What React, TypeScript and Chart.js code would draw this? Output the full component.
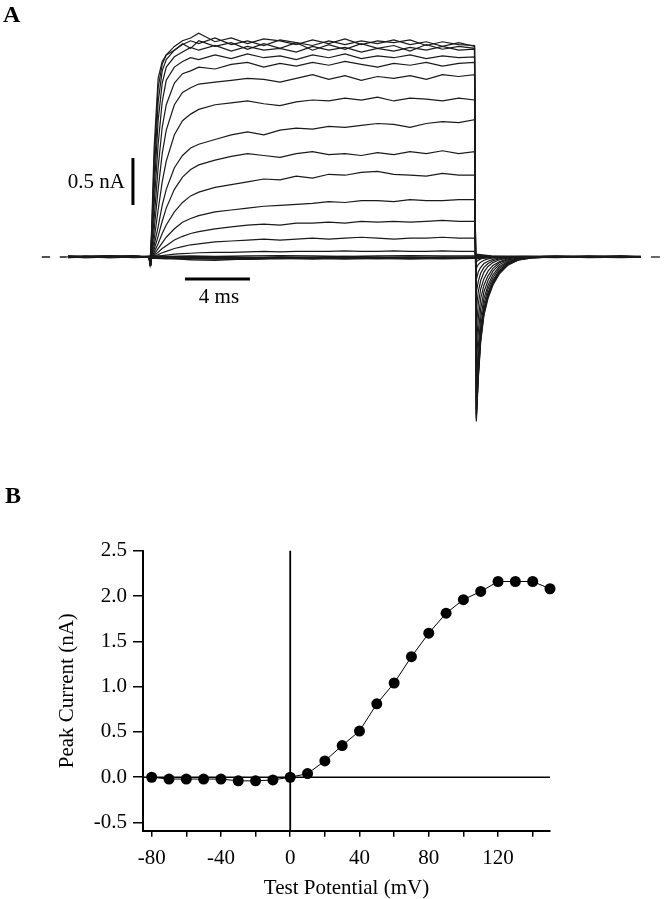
import React, { useEffect, useRef } from "react";
import { Chart, registerables } from "chart.js";
Chart.register(...registerables);

const FONT = '"Liberation Serif", "Times New Roman", serif';

// ---------- Panel A : current traces (time in ms, current in nA) ----------
const TIME_MS = [-5.05, -3, -1, -0.05, 0, 0.1, 0.25, 0.5, 0.75, 1, 1.5, 2, 2.5, 3, 4, 5, 6, 7, 8, 9, 10, 11, 12, 13, 14, 15, 16, 17, 18, 19, 19.97, 20.08, 20.2, 20.35, 20.55, 20.8, 21.1, 21.5, 22, 22.7, 23.5, 25, 27, 30.2];

const TRACE_P150 = [0, 0.01, -0.005, 0.005, -0.08, 0.3, 1.15, 1.9, 2.08, 2.15, 2.2, 2.27, 2.22, 2.3, 2.24, 2.28, 2.21, 2.27, 2.22, 2.28, 2.2, 2.26, 2.21, 2.27, 2.22, 2.25, 2.19, 2.26, 2.21, 2.24, 2.22, -1.75, -1.3, -0.9, -0.62, -0.44, -0.3, -0.18, -0.09, -0.03, -0.01, 0.005, -0.005, 0];
const TRACE_P140 = [0.005, -0.005, 0.01, 0, -0.08, 0.25, 1.0, 1.8, 2.05, 2.15, 2.24, 2.3, 2.33, 2.38, 2.29, 2.33, 2.27, 2.32, 2.3, 2.26, 2.31, 2.27, 2.32, 2.26, 2.3, 2.28, 2.31, 2.25, 2.29, 2.26, 2.25, -1.72, -1.27, -0.88, -0.6, -0.42, -0.28, -0.17, -0.08, -0.03, -0.01, 0, 0.005, 0];
const TRACE_P130 = [-0.005, 0.005, 0, 0.01, -0.07, 0.2, 0.85, 1.65, 1.98, 2.1, 2.2, 2.26, 2.3, 2.27, 2.33, 2.26, 2.3, 2.25, 2.31, 2.28, 2.25, 2.3, 2.26, 2.3, 2.27, 2.31, 2.26, 2.29, 2.24, 2.28, 2.24, -1.7, -1.25, -0.86, -0.58, -0.41, -0.27, -0.16, -0.08, -0.025, -0.005, 0.005, 0, 0];
const TRACE_P120 = [0, 0, 0.005, -0.005, -0.07, 0.15, 0.7, 1.45, 1.85, 2.02, 2.13, 2.18, 2.23, 2.2, 2.25, 2.19, 2.24, 2.2, 2.22, 2.18, 2.24, 2.2, 2.23, 2.18, 2.22, 2.19, 2.23, 2.2, 2.24, 2.2, 2.21, -1.68, -1.22, -0.84, -0.57, -0.4, -0.26, -0.15, -0.07, -0.02, -0.01, 0, -0.005, 0];
const TRACE_P110 = [0.005, 0, -0.005, 0, -0.06, 0.12, 0.55, 1.2, 1.65, 1.88, 2.02, 2.08, 2.12, 2.1, 2.15, 2.11, 2.16, 2.12, 2.14, 2.1, 2.15, 2.12, 2.16, 2.11, 2.14, 2.12, 2.15, 2.11, 2.14, 2.12, 2.13, -1.62, -1.18, -0.8, -0.55, -0.38, -0.25, -0.14, -0.07, -0.02, 0, 0.005, 0, 0];
const TRACE_P100 = [0, 0.005, 0, -0.005, -0.06, 0.08, 0.4, 0.95, 1.38, 1.62, 1.85, 1.95, 1.98, 2.02, 2.0, 2.05, 2.07, 2.02, 2.06, 2.03, 2.07, 2.04, 2.08, 2.05, 2.02, 2.06, 2.04, 2.07, 2.03, 2.06, 2.07, -1.5, -1.08, -0.74, -0.5, -0.34, -0.22, -0.12, -0.06, -0.02, 0, 0, 0.005, 0];
const TRACE_P90 = [0, -0.005, 0.005, 0, -0.05, 0.05, 0.28, 0.72, 1.1, 1.35, 1.62, 1.75, 1.8, 1.84, 1.86, 1.88, 1.9, 1.89, 1.86, 1.9, 1.94, 1.89, 1.93, 1.88, 1.92, 1.9, 1.93, 1.89, 1.94, 1.92, 1.94, -1.35, -0.96, -0.65, -0.44, -0.3, -0.19, -0.1, -0.05, -0.015, 0, 0, 0, 0];
const TRACE_P80 = [0.005, 0, 0, 0.005, -0.05, 0.03, 0.18, 0.5, 0.8, 1.02, 1.3, 1.45, 1.52, 1.57, 1.62, 1.64, 1.66, 1.63, 1.61, 1.65, 1.67, 1.66, 1.69, 1.67, 1.7, 1.66, 1.69, 1.68, 1.66, 1.69, 1.67, -1.15, -0.8, -0.55, -0.37, -0.25, -0.15, -0.08, -0.04, -0.01, 0, 0.005, 0, 0];
const TRACE_P70 = [0, 0.005, -0.005, 0, -0.04, 0.02, 0.12, 0.32, 0.55, 0.72, 0.95, 1.08, 1.16, 1.2, 1.25, 1.3, 1.33, 1.3, 1.35, 1.37, 1.36, 1.39, 1.38, 1.4, 1.42, 1.41, 1.38, 1.42, 1.44, 1.43, 1.46, -0.95, -0.65, -0.44, -0.3, -0.2, -0.12, -0.06, -0.03, -0.01, 0, 0, 0, 0];
const TRACE_P60 = [0, 0, 0.005, -0.005, -0.04, 0.01, 0.08, 0.22, 0.38, 0.52, 0.72, 0.85, 0.93, 0.98, 1.03, 1.07, 1.1, 1.08, 1.06, 1.1, 1.12, 1.09, 1.1, 1.08, 1.11, 1.09, 1.12, 1.1, 1.13, 1.1, 1.12, -0.75, -0.5, -0.34, -0.23, -0.15, -0.09, -0.05, -0.02, 0, 0, 0, 0, 0];
const TRACE_P50 = [0.005, 0, 0, 0, -0.03, 0.005, 0.05, 0.14, 0.25, 0.34, 0.48, 0.58, 0.65, 0.69, 0.74, 0.77, 0.8, 0.83, 0.82, 0.86, 0.84, 0.88, 0.87, 0.9, 0.91, 0.88, 0.87, 0.86, 0.89, 0.87, 0.87, -0.55, -0.37, -0.25, -0.16, -0.1, -0.06, -0.03, -0.01, 0, 0, 0, 0, 0];
const TRACE_P40 = [0, 0.005, 0, 0, -0.03, 0, 0.03, 0.09, 0.15, 0.21, 0.3, 0.37, 0.41, 0.44, 0.48, 0.5, 0.52, 0.54, 0.55, 0.56, 0.57, 0.59, 0.58, 0.6, 0.6, 0.59, 0.61, 0.6, 0.6, 0.61, 0.61, -0.38, -0.26, -0.17, -0.11, -0.07, -0.04, -0.02, -0.01, 0, 0, 0, 0, 0];
const TRACE_P30 = [0, 0, 0.005, 0, -0.02, 0, 0.02, 0.05, 0.09, 0.12, 0.18, 0.22, 0.25, 0.27, 0.3, 0.32, 0.34, 0.35, 0.34, 0.36, 0.36, 0.37, 0.36, 0.38, 0.37, 0.38, 0.37, 0.38, 0.39, 0.38, 0.38, -0.24, -0.16, -0.11, -0.07, -0.045, -0.025, -0.01, 0, 0, 0, 0, 0, 0];
const TRACE_P20 = [0, 0, 0, 0.005, -0.02, 0, 0.01, 0.025, 0.045, 0.06, 0.09, 0.11, 0.13, 0.14, 0.16, 0.17, 0.18, 0.19, 0.18, 0.19, 0.2, 0.19, 0.2, 0.21, 0.2, 0.19, 0.2, 0.2, 0.21, 0.2, 0.2, -0.12, -0.08, -0.055, -0.035, -0.02, -0.01, 0, 0, 0, 0, 0, 0, 0];
const TRACE_P10 = [0, 0, 0, 0, -0.02, 0, 0, 0.01, 0.015, 0.02, 0.03, 0.035, 0.04, 0.045, 0.05, 0.05, 0.055, 0.06, 0.055, 0.06, 0.06, 0.06, 0.065, 0.06, 0.06, 0.065, 0.06, 0.06, 0.065, 0.06, 0.06, -0.05, -0.035, -0.02, -0.01, -0.005, 0, 0, 0, 0, 0, 0, 0, 0];

// traces for steps that evoke no current (-80 ... 0 mV)
const TIME_BASE_MS = [-5.05, -4, -2.5, -1, -0.05, 0, 0.05, 1, 2.5, 4, 6, 8, 10, 12, 14, 16, 18, 19.97, 20.08, 21, 23, 25, 27, 29, 30.2];
const TRACE_N80 = [0.01, 0, 0.015, 0.005, 0, -0.09, 0, -0.01, -0.015, -0.01, -0.02, -0.01, -0.015, -0.01, -0.02, -0.01, -0.015, -0.01, 0.03, 0.01, 0.005, 0.01, 0, 0.01, 0.005];
const TRACE_N70 = [0, 0.01, 0, 0.01, 0, -0.08, -0.01, -0.02, -0.01, -0.02, -0.01, -0.015, -0.02, -0.01, -0.015, -0.02, -0.01, -0.015, 0.02, 0.005, 0, 0.005, 0.01, 0, 0];
const TRACE_N60 = [-0.005, 0.005, 0.01, 0, 0.005, -0.08, -0.015, -0.01, -0.03, -0.035, -0.02, -0.01, -0.02, -0.015, -0.01, -0.02, -0.015, -0.01, 0.02, 0, 0.005, 0, 0.005, 0.01, 0];
const TRACE_N50 = [0.005, -0.005, 0, 0.005, 0, -0.07, -0.01, -0.005, -0.01, -0.02, -0.015, -0.02, -0.01, -0.02, -0.015, -0.01, -0.02, -0.015, 0.015, 0.005, -0.005, 0, 0, 0.005, 0];
const TRACE_N40 = [0, 0, 0.005, -0.005, 0, -0.07, 0, -0.01, -0.005, -0.015, -0.01, -0.005, -0.015, -0.01, -0.005, -0.015, -0.01, -0.005, 0.01, 0, 0, 0.005, -0.005, 0, 0];
const TRACE_N30 = [0.01, 0.005, -0.005, 0, 0.005, -0.06, 0.005, -0.015, -0.02, -0.01, -0.025, -0.015, -0.01, -0.02, -0.01, -0.015, -0.005, -0.01, 0.01, 0.005, 0, -0.005, 0.005, 0, 0.005];
const TRACE_N20 = [-0.005, 0, 0.005, 0.01, 0, -0.06, 0, -0.01, -0.005, -0.01, -0.015, -0.005, -0.01, -0.005, -0.015, -0.01, -0.005, -0.01, 0.005, 0, 0.005, 0, 0, -0.005, 0];
const TRACE_N10 = [0, -0.005, 0, 0.005, 0, -0.05, 0.005, 0, -0.005, 0, -0.01, 0, -0.005, 0.005, -0.005, 0, -0.005, 0, -0.005, 0, 0, 0.005, 0, 0, 0];
const TRACE_Z0 = [0.005, 0, -0.005, 0, 0, -0.05, 0.01, 0.005, 0.01, 0.005, 0.01, 0.015, 0.01, 0.005, 0.01, 0.015, 0.01, 0.01, -0.02, -0.005, 0, 0, 0.005, 0, 0];

// zero-current dashes and scale bars of panel A
const DASH_LEFT_MS = [-6.66, -5.12];
const DASH_RIGHT_MS = [30.83, 31.38];
const BAR_CURRENT_T = -1.05;           // ms position of the 0.5 nA bar
const BAR_CURRENT_NA = [0.553, 1.053];
const BAR_TIME_MS = [2.15, 6.15];      // 4 ms bar
const BAR_TIME_NA = -0.234;

// ---------- Panel B : I-V relation ----------
const TEST_POTENTIAL_MV = [-80, -70, -60, -50, -40, -30, -20, -10, 0, 10, 20, 30, 40, 50, 60, 70, 80, 90, 100, 110, 120, 130, 140, 150];
const PEAK_CURRENT_NA = [0.0, -0.02, -0.02, -0.02, -0.02, -0.04, -0.04, -0.03, 0.0, 0.04, 0.18, 0.35, 0.51, 0.81, 1.04, 1.33, 1.59, 1.81, 1.96, 2.05, 2.16, 2.16, 2.16, 2.08];
const X_TICKS = [-80, -60, -40, -20, 0, 20, 40, 60, 80, 100, 120, 140];
const X_TICK_LABELS = ["-80", "", "-40", "", "0", "", "40", "", "80", "", "120", ""];
const Y_TICKS = [-0.5, 0, 0.5, 1.0, 1.5, 2.0, 2.5];
const Y_TICK_LABELS = ["-0.5", "0.0", "0.5", "1.0", "1.5", "2.0", "2.5"];

const toXY = (xs: number[], ys: number[]) => xs.map((x, i) => ({ x, y: ys[i] }));

export default function App() {
  const aRef = useRef<HTMLCanvasElement>(null);
  const bRef = useRef<HTMLCanvasElement>(null);

  useEffect(() => {
    const active = [TRACE_P10, TRACE_P20, TRACE_P30, TRACE_P40, TRACE_P50, TRACE_P60, TRACE_P70, TRACE_P80, TRACE_P90, TRACE_P100, TRACE_P110, TRACE_P120, TRACE_P130, TRACE_P140, TRACE_P150];
    const silent = [TRACE_N80, TRACE_N70, TRACE_N60, TRACE_N50, TRACE_N40, TRACE_N30, TRACE_N20, TRACE_N10, TRACE_Z0];
    const traceStyle = { borderColor: "#1a1a1a", borderWidth: 1.2, pointRadius: 0, fill: false, tension: 0, clip: false as const };

    const datasetsA: any[] = [];
    silent.forEach((tr) => datasetsA.push({ ...traceStyle, borderWidth: 1.4, data: toXY(TIME_BASE_MS, tr) }));
    active.forEach((tr) => datasetsA.push({ ...traceStyle, data: toXY(TIME_MS, tr) }));
    datasetsA.push({ ...traceStyle, borderWidth: 1.3, borderDash: [8.3, 9.7], data: toXY(DASH_LEFT_MS, [0, 0]) });
    datasetsA.push({ ...traceStyle, borderWidth: 1.3, data: toXY(DASH_RIGHT_MS, [0, 0]) });
    datasetsA.push({ ...traceStyle, borderColor: "#000", borderWidth: 3, borderCapStyle: "butt", data: toXY([BAR_CURRENT_T, BAR_CURRENT_T], BAR_CURRENT_NA) });
    datasetsA.push({ ...traceStyle, borderColor: "#000", borderWidth: 3, borderCapStyle: "butt", data: toXY(BAR_TIME_MS, [BAR_TIME_NA, BAR_TIME_NA]) });

    const chartA = new Chart(aRef.current!, {
      type: "line",
      data: { datasets: datasetsA },
      options: {
        animation: false,
        responsive: false,
        events: [],
        layout: { padding: { left: 20, right: 2.1, top: 12.6, bottom: 4.4 } },
        scales: {
          x: { type: "linear", min: -8, max: 31.5, display: false },
          y: { type: "linear", min: -1.9, max: 2.6, display: false },
        },
        plugins: { legend: { display: false }, tooltip: { enabled: false } },
      },
    });

    const tickFont = { family: FONT, size: 21 };
    const chartB = new Chart(bRef.current!, {
      type: "line",
      data: {
        datasets: [
          {
            data: toXY(TEST_POTENTIAL_MV, PEAK_CURRENT_NA),
            borderColor: "#000",
            borderWidth: 1,
            pointRadius: 5.5,
            pointBackgroundColor: "#000",
            pointBorderWidth: 0,
            tension: 0,
            clip: false,
            order: 0,
          } as any,
          {
            data: toXY([0, 0], [-0.59, 2.5]),
            borderColor: "#000",
            borderWidth: 1.8,
            pointRadius: 0,
            clip: false,
            order: 1,
          } as any,
          {
            data: toXY([-85, 150], [0, 0]),
            borderColor: "#000",
            borderWidth: 1.6,
            pointRadius: 0,
            clip: false,
            order: 1,
          } as any,
        ],
      },
      options: {
        animation: false,
        responsive: false,
        events: [],
        layout: { padding: { left: 0, right: 114, top: 90.7, bottom: 0 } },
        scales: {
          x: {
            type: "linear",
            min: -85,
            max: 150,
            afterBuildTicks: (s: any) => { s.ticks = X_TICKS.map((v) => ({ value: v })); },
            afterFit: (s: any) => { s.height = 68.3; },
            ticks: {
              font: tickFont,
              color: "#000",
              padding: 9.5,
              maxRotation: 0,
              autoSkip: false,
              callback: (_v: any, i: number) => X_TICK_LABELS[i],
            },
            grid: { display: true, drawOnChartArea: false, drawTicks: true, tickLength: 6, color: "#000", lineWidth: 1.5 },
            border: { display: true, color: "#000", width: 2 },
            title: { display: true, text: "Test Potential (mV)", color: "#000", font: { family: FONT, size: 21, lineHeight: 1 }, padding: 0 },
          },
          y: {
            type: "linear",
            min: -0.59,
            max: 2.5,
            afterBuildTicks: (s: any) => { s.ticks = Y_TICKS.map((v) => ({ value: v })); },
            afterFit: (s: any) => { s.width = 143; },
            ticks: {
              font: tickFont,
              color: "#000",
              padding: 6,
              autoSkip: false,
              callback: (_v: any, i: number) => Y_TICK_LABELS[i],
            },
            grid: { display: true, drawOnChartArea: false, drawTicks: true, tickLength: 10, color: "#000", lineWidth: 1.5 },
            border: { display: true, color: "#000", width: 2 },
            title: { display: true, text: "Peak Current (nA)", color: "#000", font: { family: FONT, size: 21 }, padding: { top: 54.9, bottom: 0 } },
          },
        },
        plugins: { legend: { display: false }, tooltip: { enabled: false } },
      },
    });

    return () => {
      chartA.destroy();
      chartB.destroy();
    };
  }, []);

  const txt: React.CSSProperties = { position: "absolute", fontFamily: FONT, color: "#000", whiteSpace: "nowrap" };
  return (
    <div style={{ position: "absolute", left: 0, top: 0, width: 664, height: 899, background: "#fff", overflow: "hidden" }}>
      <canvas ref={aRef} width={664} height={440} style={{ position: "absolute", left: 0, top: 0 }} />
      <canvas ref={bRef} width={664} height={439} style={{ position: "absolute", left: 0, top: 460 }} />
      <div style={{ ...txt, left: 3, top: 1.9, fontSize: 24, lineHeight: "24px", fontWeight: "bold" }}>A</div>
      <div style={{ ...txt, left: 5, top: 482.9, fontSize: 24, lineHeight: "24px", fontWeight: "bold" }}>B</div>
      <div style={{ ...txt, left: 0, width: 125, textAlign: "right", top: 170.7, fontSize: 21, lineHeight: "21px" }}>0.5 nA</div>
      <div style={{ ...txt, left: 169, width: 100, textAlign: "center", top: 286.4, fontSize: 21, lineHeight: "21px" }}>4 ms</div>
    </div>
  );
}
